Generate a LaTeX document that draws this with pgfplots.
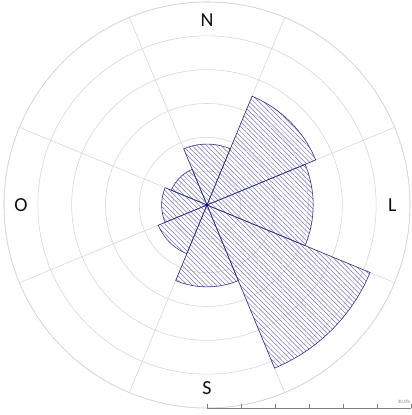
\documentclass[border=0pt]{standalone}
\usepackage{fontspec}
\setmainfont{Carlito}
\usepackage{pgfplots}
\pgfplotsset{compat=1.18}
\usepgfplotslibrary{polar}
\usetikzlibrary{patterns.meta}
\definecolor{gridgray}{RGB}{215,215,215}
\definecolor{hatch}{RGB}{115,115,185}
\definecolor{edge}{RGB}{50,50,130}
\definecolor{txt}{RGB}{15,15,15}
\begin{document}
\begin{tikzpicture}
\path[use as bounding box] (-207bp,-210bp) rectangle (205bp,205bp);
\begin{polaraxis}[
  at={(0,0)}, anchor=center,
  scale only axis, width=406bp, height=406bp,
  ymin=0, ymax=30,
  xtick={22.5,67.5,...,337.5},
  ytick={5,10,...,30},
  xticklabels={}, yticklabels={},
  major tick length=0pt,
  grid=major,
  major grid style={draw=gridgray, line width=0.6bp},
  x axis line style={draw=gridgray, line width=0.6bp},
  y axis line style={draw=none},
  sector/.style={draw=edge, line width=0.6bp, pattern={Lines[angle=-45, distance=3.4bp, line width=0.5bp]}, pattern color=hatch},
]
% E (15.7%)
\addplot[sector] coordinates {(0,0) (-22.5,15.7) (-18,15.7) (-13.5,15.7) (-9,15.7) (-4.5,15.7) (0,15.7) (4.5,15.7) (9,15.7) (13.5,15.7) (18,15.7) (22.5,15.7)} -- cycle;
% NE (17.4%)
\addplot[sector] coordinates {(0,0) (22.5,17.4) (27,17.4) (31.5,17.4) (36,17.4) (40.5,17.4) (45,17.4) (49.5,17.4) (54,17.4) (58.5,17.4) (63,17.4) (67.5,17.4)} -- cycle;
% N (9.0%)
\addplot[sector] coordinates {(0,0) (67.5,9.0) (72,9.0) (76.5,9.0) (81,9.0) (85.5,9.0) (90,9.0) (94.5,9.0) (99,9.0) (103.5,9.0) (108,9.0) (112.5,9.0)} -- cycle;
% NW (5.7%)
\addplot[sector] coordinates {(0,0) (112.5,5.7) (117,5.7) (121.5,5.7) (126,5.7) (130.5,5.7) (135,5.7) (139.5,5.7) (144,5.7) (148.5,5.7) (153,5.7) (157.5,5.7)} -- cycle;
% W (6.7%)
\addplot[sector] coordinates {(0,0) (157.5,6.7) (162,6.7) (166.5,6.7) (171,6.7) (175.5,6.7) (180,6.7) (184.5,6.7) (189,6.7) (193.5,6.7) (198,6.7) (202.5,6.7)} -- cycle;
% SW (7.8%)
\addplot[sector] coordinates {(0,0) (202.5,7.8) (207,7.8) (211.5,7.8) (216,7.8) (220.5,7.8) (225,7.8) (229.5,7.8) (234,7.8) (238.5,7.8) (243,7.8) (247.5,7.8)} -- cycle;
% S (12.1%)
\addplot[sector] coordinates {(0,0) (247.5,12.1) (252,12.1) (256.5,12.1) (261,12.1) (265.5,12.1) (270,12.1) (274.5,12.1) (279,12.1) (283.5,12.1) (288,12.1) (292.5,12.1)} -- cycle;
% SE (26.1%)
\addplot[sector] coordinates {(0,0) (292.5,26.1) (297,26.1) (301.5,26.1) (306,26.1) (310.5,26.1) (315,26.1) (319.5,26.1) (324,26.1) (328.5,26.1) (333,26.1) (337.5,26.1)} -- cycle;
\addplot[only marks, mark=asterisk, mark size=1.5bp, color=blue!70!black] coordinates {(0,0)};
\node[font=\fontsize{20}{20}\selectfont, text=txt] at (axis cs:90,27.3) {N};
\node[font=\fontsize{20}{20}\selectfont, text=txt] at (axis cs:0,27.4) {L};
\node[font=\fontsize{20}{20}\selectfont, text=txt] at (axis cs:270,27.1) {S};
\node[font=\fontsize{20}{20}\selectfont, text=txt] at (axis cs:180,27.5) {O};
\end{polaraxis}
\begin{axis}[
  at={(0bp,-203bp)}, anchor=origin,
  scale only axis, width=204bp, height=2bp,
  xmin=0, xmax=30, ymin=0, ymax=1,
  axis x line*=bottom, axis y line=none,
  xtick={0,5,...,30}, xticklabels={},
  tick align=inside, major tick length=4bp,
  axis line style={draw=gray, line width=0.6bp},
  tick style={draw=gray, line width=0.6bp},
  clip=false,
]
\addplot[draw=none] coordinates {(0,0) (30,0)};
\node[anchor=south east, font=\fontsize{5}{5}\selectfont, text=gray, inner sep=0.5bp] at (axis cs:30,1.5) {30,0\%};
\end{axis}
\end{tikzpicture}
\end{document}
